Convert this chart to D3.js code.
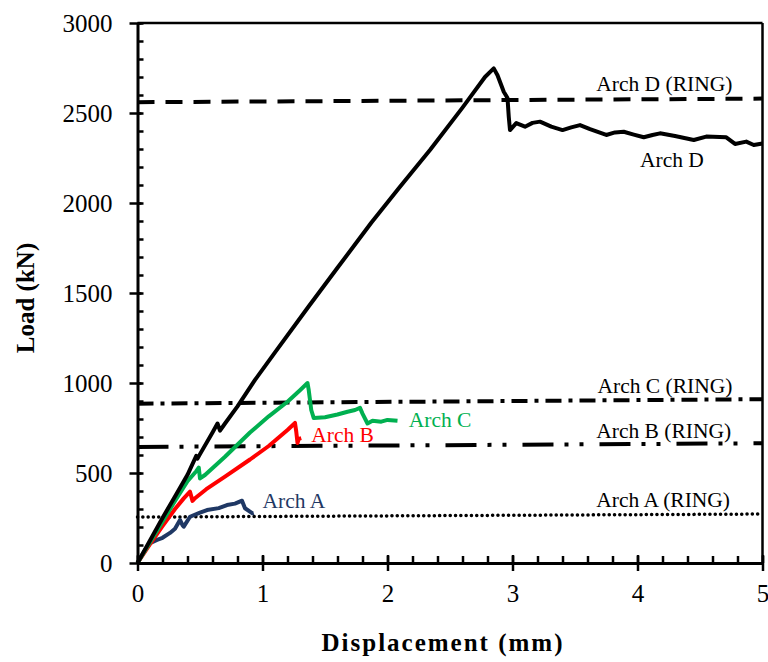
<!DOCTYPE html>
<html lang="en">
<head>
  <meta charset="UTF-8">
  <title>Load vs Displacement - Arches A to D</title>
  <script src="https://d3js.org/d3.v7.min.js"></script>
  <style>
    body { margin: 0; background: #fff; }
    svg { display: block; font-family: "Liberation Serif", "Times New Roman", serif; }
    .tick text { font-size: 25px; fill: #000; font-family: "Liberation Serif", "Times New Roman", serif; }
    .axis-title { font-size: 25px; font-weight: bold; }
    .note { font-size: 21.5px; }
  </style>
</head>
<body>
  <svg width="768" height="662"></svg>

  <script>
    // values (displacement mm, load kN)
    const archA = [[0,0],[0.05,60],[0.1,110],[0.156,128],[0.2,140],[0.26,167],[0.3,190],[0.34,239],[0.36,210],[0.37,202],
      [0.42,257],[0.5,280],[0.556,294],[0.65,305],[0.716,322],[0.78,330],[0.836,346],[0.86,304],[0.92,276],[0.93,278]];
    const archB = [[0,0],[0.1,105],[0.2,205],[0.3,300],[0.37,359],[0.42,396],[0.44,345],[0.46,360],[0.55,410],[0.7,480],
      [0.9,575],[1.05,650],[1.2,739],[1.26,778],[1.27,730],[1.28,667],[1.29,690],[1.31,694]];
    const archC = [[0,0],[0.1,115],[0.2,230],[0.3,345],[0.4,455],[0.47,510],[0.49,530],[0.5,470],[0.54,489],[0.7,590],
      [0.9,725],[1.05,815],[1.2,896],[1.3,960],[1.36,1000],[1.37,960],[1.39,850],[1.41,805],[1.5,810],[1.6,825],
      [1.68,840],[1.74,850],[1.78,862],[1.8,830],[1.84,775],[1.88,790],[1.95,785],[2.0,795],[2.08,790]];
    const archD = [[0,0],[0.1,125],[0.2,250],[0.3,370],[0.4,490],[0.47,595],[0.48,580],[0.5,605],[0.6,725],[0.64,775],
      [0.66,735],[0.7,775],[0.8,870],[0.94,1017],[1.1,1170],[1.366,1422],[1.6,1640],[1.87,1890],[2.1,2090],[2.34,2294],
      [2.6,2530],[2.78,2700],[2.85,2748],[2.88,2710],[2.93,2618],[2.96,2583],[2.97,2480],[2.98,2405],[3.03,2444],[3.1,2424],
      [3.16,2445],[3.22,2452],[3.31,2424],[3.4,2405],[3.47,2420],[3.54,2433],[3.62,2410],[3.75,2378],[3.82,2392],[3.89,2396],
      [3.97,2380],[4.05,2365],[4.12,2378],[4.18,2387],[4.3,2372],[4.45,2350],[4.55,2369],[4.71,2365],[4.78,2328],[4.87,2341],
      [4.93,2322],[5.0,2331]];

    // RING predictions: load at x = 0 and x = 5
    const ringNames = ['Arch D (RING)', 'Arch C (RING)', 'Arch B (RING)', 'Arch A (RING)'];
    const ringLoads = [[2560, 2580], [885, 910], [645, 665], [255, 272]];

    const xTicks = [0, 1, 2, 3, 4, 5];
    const yTicks = [0, 500, 1000, 1500, 2000, 2500, 3000];

    const margin = { top: 23, left: 137.5 };
    const width = 625, height = 540;

    const svg = d3.select('svg');
    const g = svg.append('g').attr('transform', `translate(${margin.left},${margin.top})`);

    const x = d3.scaleLinear().domain([0, 5]).range([0, width]);
    const y = d3.scaleLinear().domain([0, 3000]).range([height, 0]);

    // ring lines
    const ringDash = ['17,11', '16,7,4,7', '31,11,4,11,4,16', '0.1,5.2'];
    const ringWidth = [4, 4, 4, 3.5];
    ringLoads.forEach((r, i) => {
      g.append('line')
        .attr('x1', x(0)).attr('x2', x(5))
        .attr('y1', y(r[0])).attr('y2', y(r[1]))
        .attr('stroke', '#000')
        .attr('stroke-width', ringWidth[i])
        .attr('stroke-dasharray', ringDash[i])
        .attr('stroke-linecap', i === 3 ? 'round' : 'butt');
    });

    const line = d3.line().x(d => x(d[0])).y(d => y(d[1]));
    const series = [
      { data: archA, color: '#1f3864' },
      { data: archB, color: '#ff0000' },
      { data: archC, color: '#00b050' },
      { data: archD, color: '#000000' }
    ];
    series.forEach(s => {
      g.append('path')
        .datum(s.data)
        .attr('fill', 'none')
        .attr('stroke', s.color)
        .attr('stroke-width', 4)
        .attr('stroke-linejoin', 'round')
        .attr('d', line);
    });

    // frame: top and right
    g.append('line').attr('x1', 0).attr('x2', width).attr('y1', 0).attr('y2', 0)
      .attr('stroke', '#000').attr('stroke-width', 2.5);
    g.append('line').attr('x1', width).attr('x2', width).attr('y1', 0).attr('y2', height)
      .attr('stroke', '#000').attr('stroke-width', 2.5);

    // minor ticks (inside)
    g.append('g')
      .call(d3.axisRight(y).tickValues(d3.range(0, 3001, 100)).tickSize(6).tickSizeOuter(0).tickFormat(''))
      .call(a => a.select('.domain').remove())
      .selectAll('line').attr('stroke-width', 2.5);
    g.append('g')
      .attr('transform', `translate(0,${height})`)
      .call(d3.axisTop(x).tickValues(d3.range(0, 5.01, 0.2)).tickSize(7).tickSizeOuter(0).tickFormat(''))
      .call(a => a.select('.domain').remove())
      .selectAll('line').attr('stroke-width', 2.5);

    // major axes
    const yAxis = g.append('g')
      .call(d3.axisLeft(y).tickValues(yTicks).tickSize(8).tickSizeOuter(0).tickPadding(17).tickFormat(d3.format('d')));
    yAxis.selectAll('.tick line').attr('x1', 4).attr('stroke-width', 2.5);
    yAxis.select('.domain').attr('stroke-width', 3);

    const xAxis = g.append('g')
      .attr('transform', `translate(0,${height})`)
      .call(d3.axisBottom(x).tickValues(xTicks).tickSize(8).tickSizeOuter(0).tickPadding(13).tickFormat(d3.format('d')));
    xAxis.selectAll('.tick line').attr('y1', -8).attr('stroke-width', 2.5);
    xAxis.select('.domain').attr('stroke-width', 3);
    [yAxis, xAxis].forEach(a => a.attr('font-family', null).attr('font-size', null));

    // axis titles
    svg.append('text')
      .attr('class', 'axis-title')
      .attr('x', margin.left + width / 2 - 7)
      .attr('y', 651)
      .attr('text-anchor', 'middle')
      .attr('letter-spacing', 2)
      .text('Displacement (mm)');
    svg.append('text')
      .attr('class', 'axis-title')
      .attr('transform', `translate(34,${margin.top + height / 2 + 5}) rotate(-90)`)
      .attr('text-anchor', 'middle')
      .text('Load (kN)');

    // annotations
    const ringLabelPos = [[3.67, 2624], [3.68, 942], [3.67, 693], [3.67, 313]];
    ringNames.forEach((t, i) => {
      g.append('text').attr('class', 'note')
        .attr('x', x(ringLabelPos[i][0])).attr('y', y(ringLabelPos[i][1]))
        .text(t);
    });
    const curveLabels = [
      { text: 'Arch D', pos: [4.02, 2200], color: '#000' },
      { text: 'Arch C', pos: [2.17, 755], color: '#00b050' },
      { text: 'Arch B', pos: [1.39, 673], color: '#ff0000' },
      { text: 'Arch A', pos: [1.0, 305], color: '#1f3864' }
    ];
    curveLabels.forEach(c => {
      g.append('text').attr('class', 'note')
        .attr('x', x(c.pos[0])).attr('y', y(c.pos[1]))
        .attr('fill', c.color)
        .text(c.text);
    });
  </script>
</body>
</html>
